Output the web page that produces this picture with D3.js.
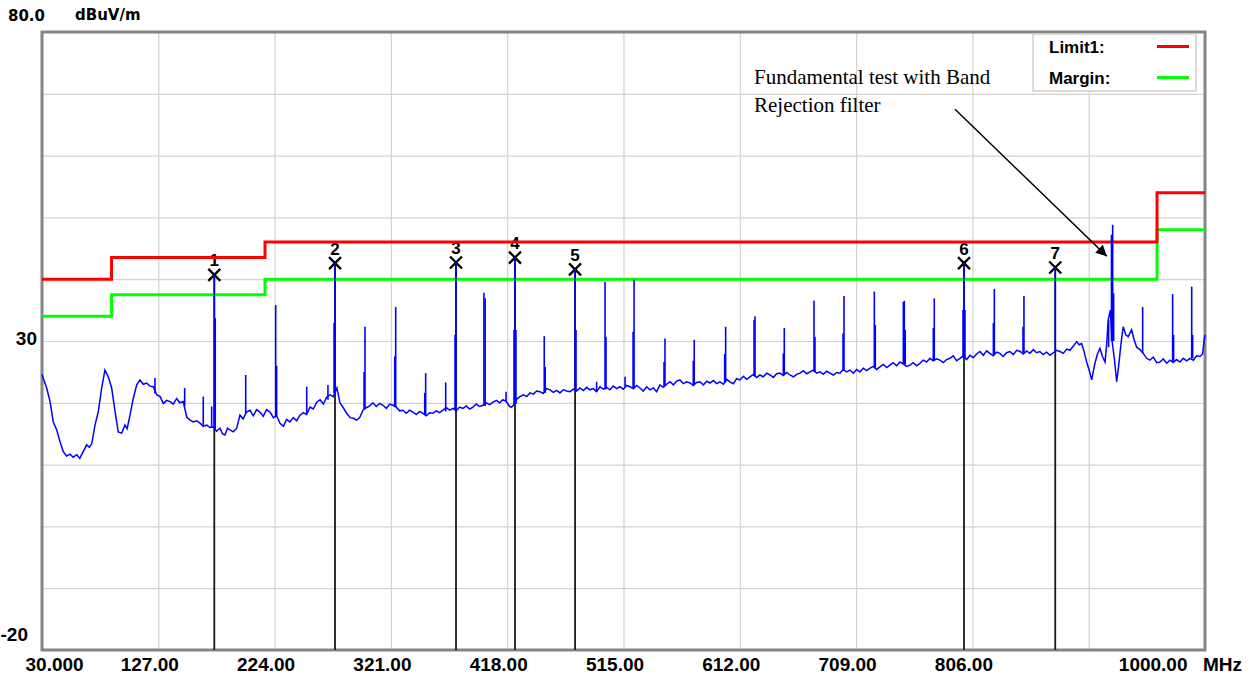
<!DOCTYPE html>
<html>
<head>
<meta charset="utf-8">
<script src="https://cdn.jsdelivr.net/npm/d3@7"></script>
<style>
body { margin: 0; background: #fff; }
svg { display: block; }
</style>
</head>
<body>
<div class="chart"></div>
<script>
// frequency axis, MHz
const xTicks = [30, 127, 224, 321, 418, 515, 612, 709, 806, 903, 1000];
const xTickLabels = ["30.000", "127.00", "224.00", "321.00", "418.00", "515.00",
    "612.00", "709.00", "806.00", "", "1000.00"];
// level axis, dBuV/m
const yTicks = [-20, -10, 0, 10, 20, 30, 40, 50, 60, 70, 80];
const yTickLabels = { "80": "80.0", "30": "30", "-20": "-20" };

// FCC class B limit and margin steps [MHz, dB]
const limit1 = [[30, 40], [88, 43.5], [216, 46], [960, 54], [1000, 54]];
const margin = [[30, 34], [88, 37.5], [216, 40], [960, 48], [1000, 48]];

// measured noise floor [MHz, dB]
const trace = [
    [30, 24.6], [30.6, 24.2], [33.9, 22.4], [36.7, 20.2], [39.4, 16.9], [42.3, 15.6], [45, 13.7],
    [47.8, 12.1], [50.5, 11.4], [53.4, 11.7], [56, 11.2], [59, 11.6], [61.5, 11.0], [64.4, 12.1],
    [67.3, 13.2], [69.5, 12.8], [71.5, 13.4], [74.2, 16.4], [77, 18.6], [79.8, 22.4], [82.5, 25.3],
    [85.3, 24.2], [88.1, 22.4], [90.9, 18.6], [93.6, 15.3], [96.5, 15.1], [99.2, 16.4], [101, 15.8],
    [103.4, 18], [106.1, 20.7], [109, 22.9], [111.7, 23.7], [114.5, 23.0], [117.3, 23.2], [120, 22.7],
    [122.8, 22.6], [125.7, 21.3], [128.5, 21.0], [131.2, 19.9], [134, 20.4], [136.8, 20.2],
    [139.5, 19.8], [142.3, 20.7], [145, 20.0], [147.8, 20.2], [150.7, 17.7], [153.5, 17.2],
    [156.2, 16.9], [159, 17.1], [161.8, 16.7], [164.5, 16.2], [167.4, 16.4], [170, 16.0],
    [172.9, 16.1], [175.5, 15.4], [178.5, 15.9], [180.5, 15.0], [182.6, 14.8], [184.7, 15.9],
    [186.8, 15.6], [189.5, 15.3], [192.4, 15.9], [195.1, 18], [197.8, 17.4], [200.5, 18.5],
    [203.5, 18.8], [206.2, 17.9], [209, 18.9], [211.8, 18.5], [214.5, 17.8], [217.3, 18.9],
    [220.2, 18.5], [223, 17.6], [225.7, 17.9], [228.5, 16.7], [231.3, 16.2], [234, 17.3],
    [236.8, 16.9], [239.6, 17.6], [242.4, 17.1], [245.2, 18], [248, 18.4], [250.7, 18.1],
    [253.5, 19.3], [256.3, 19.0], [259.1, 20.1], [261.9, 20.5], [264.7, 19.8], [267.4, 20.9],
    [270.2, 21.3], [273, 21.0], [276, 22.4], [278.5, 20], [281.3, 19.2], [284.1, 18.3], [287, 17.6],
    [289.7, 17.5], [292.5, 17.2], [295, 17.6], [297.7, 18.8], [300.5, 19.2], [303.3, 19.5], [306, 20],
    [308.8, 19.4], [311.6, 19.9], [314.4, 19.6], [317.2, 19.1], [320, 19.8], [322.7, 19.6],
    [325.5, 19.3], [328.3, 18.7], [331, 18.8], [333.8, 18.3], [336.6, 18.8], [339.4, 18.5],
    [342.2, 18.1], [345, 18.6], [347.8, 18.3], [350.5, 17.9], [353.3, 18.4], [356.1, 18.3],
    [358.9, 18.7], [361.6, 18.4], [364.4, 18.8], [367.2, 19.2], [370, 18.8], [372.8, 19.1],
    [375.6, 18.7], [378.3, 19.3], [381.1, 19.1], [383.9, 19.5], [386.7, 19.0], [389.5, 19.3],
    [392.2, 19.8], [395, 19.4], [397.8, 19.6], [400.6, 20.0], [403.4, 19.7], [406.2, 20.1],
    [409, 20.4], [411.7, 20.0], [414.5, 20.5], [417.3, 20.2], [420, 19.4], [421.7, 19.3],
    [424.5, 19.9], [426, 20.6], [428.7, 21], [431.5, 21.3], [434.2, 21.0], [437, 21.6],
    [439.8, 21.4], [442.6, 21.9], [445.3, 21.8], [448.1, 21.5], [450.9, 22.3], [453.7, 22.1],
    [456.5, 21.7], [459.2, 22.0], [462, 21.6], [464.8, 22.1], [467.6, 21.9], [470.4, 21.8],
    [473.1, 22.2], [475.9, 21.9], [478.7, 22.4], [481.5, 22.0], [484.3, 22.5], [487, 22.1],
    [489.8, 22.3], [492.6, 21.8], [495.4, 22.6], [498.2, 22.2], [501, 22.5], [503.7, 22.1],
    [506.5, 22.7], [509.3, 22.3], [512, 22.6], [514.8, 22.2], [517.6, 22.8], [520.4, 22.6],
    [523.2, 22.3], [526, 22.8], [528.7, 22.4], [531.5, 21.9], [534.3, 22.6], [537.1, 22.1],
    [539.9, 22.4], [542.6, 21.8], [545.4, 22.9], [548.2, 22.5], [551, 23.0], [553.8, 23.4],
    [556.6, 22.9], [559.3, 23.5], [562.1, 23.7], [564.9, 23.1], [567.7, 23.4], [570.5, 23.2],
    [573.2, 22.8], [576, 23.3], [578.8, 23.4], [581.6, 22.9], [584.4, 23.5], [587.1, 23.2],
    [589.9, 23.6], [592.7, 23.1], [595.5, 23.4], [598.3, 23.0], [601, 23.8], [603.8, 23.4],
    [606.6, 23.1], [609.4, 23.9], [612.2, 23.7], [615, 24.3], [617.7, 23.8], [620.5, 24.2],
    [623.3, 24.6], [626.1, 24.1], [628.8, 24.5], [631.6, 24.2], [634.4, 24.8], [637.2, 24.5],
    [640, 24.1], [642.7, 24.7], [645.5, 24.8], [648.3, 24.4], [651.1, 24.9], [653.9, 24.5],
    [656.7, 24.2], [659.4, 24.6], [662.2, 24.8], [665, 25.2], [667.8, 24.7], [670.5, 25],
    [673.3, 25.3], [676.1, 24.8], [678.9, 25], [681.7, 24.6], [684.4, 25.1], [687.2, 24.8],
    [690, 24.5], [692.8, 24.9], [695.5, 24.8], [698.3, 25.4], [701.1, 25.0], [703.9, 25.3],
    [706.7, 24.8], [709.4, 25.4], [712.2, 25], [715, 25.6], [717.8, 25.2], [720.6, 25.6],
    [723.4, 25.9], [726.1, 25.4], [728.9, 25.8], [731.7, 26.2], [734.5, 25.7], [737.2, 26.1],
    [740, 26.5], [742.8, 26.0], [745.6, 26.6], [748.4, 26.3], [751.1, 25.9], [753.9, 26.1],
    [756.7, 26.5], [759.5, 26.0], [762.3, 26.4], [765, 26.9], [767.8, 26.6], [770.6, 27.2],
    [773.4, 26.8], [776.2, 27.1], [778.9, 26.9], [781.7, 26.5], [784.5, 27.0], [787.3, 27.2],
    [790, 27.6], [792.8, 26.8], [795.6, 27.2], [798.4, 27.6], [801.2, 27.0], [804, 27.7],
    [806.7, 27.3], [809.5, 27.9], [812.3, 28.3], [815.1, 27.7], [817.9, 28.4], [820.6, 28],
    [823.4, 27.6], [826.2, 28.2], [829, 28], [831.7, 27.5], [834.5, 28.1], [837.3, 28.3],
    [840.1, 27.8], [842.9, 28.5], [845.7, 28.3], [848.5, 27.9], [851.2, 28.4], [854, 28],
    [856.8, 28.6], [859.6, 28.1], [862.3, 28.3], [865.1, 27.8], [867.9, 28.2], [870.7, 27.7],
    [873.5, 28.1], [876.2, 28.5], [879, 28.3], [881.8, 28.0], [884.6, 28.7], [887.4, 28.5],
    [890.2, 29.2], [893, 29.9], [895, 29.4], [897.1, 29.6], [899, 28.4], [901.3, 26.6],
    [903.5, 25.2], [905.5, 23.7], [908.2, 26.4], [910.3, 27.9], [912.4, 28.8], [914.5, 27.5],
    [916.6, 26.6], [918, 29.5], [919.3, 33.4], [921, 35], [922.5, 30], [924.5, 27], [926.3, 23.4],
    [927.7, 25.5], [929.1, 28], [930.5, 30.5], [931.8, 32.3], [933.9, 31], [936, 30.7],
    [938.8, 31.8], [940.9, 30.2], [943, 29], [945.8, 28.6], [948.5, 28], [951.3, 27.2],
    [954.1, 26.9], [956.9, 27.4], [959.7, 26.5], [962.4, 26.6], [965.2, 27.1], [968, 26.4],
    [970.8, 26.9], [973.6, 26.5], [976.3, 27.0], [979.1, 26.6], [981.9, 27.2], [984.7, 26.8],
    [987.5, 27.2], [990.3, 26.9], [993, 27.6], [995.8, 27.5], [998, 27.9], [999.3, 30.2], [1000, 31]
];

// narrow emissions [MHz, peak dB, floor dB]
const spikes = [
    [124.2, 24.0, 21.5], [149.0, 22.4, 19.5], [164.5, 21.0, 16.3], [171.5, 19.4, 16.0],
    [173.7, 40.7, 15.8], [174.5, 33.7, 15.8], [199.9, 24.5, 18.3], [224.9, 35.8, 17.8],
    [225.7, 26.0, 17.8], [250.8, 22.6, 18.2], [268.5, 22.9, 20.5], [273.6, 32.9, 21.5],
    [274.4, 42.6, 21.5], [298.6, 25.0, 19.0], [299.4, 32.3, 19.0], [324.2, 27.5, 19.3],
    [325.0, 35.5, 19.3], [349.2, 21.6, 18.0], [350.0, 24.8, 18.0], [366.7, 23.3, 18.6],
    [374.5, 31.0, 18.8], [375.3, 42.7, 18.8], [398.6, 37.8, 19.5], [399.6, 36.9, 19.5],
    [417.0, 21.8, 20.2], [423.7, 31.8, 19.8], [424.5, 43.5, 19.8], [425.3, 31.8, 19.8],
    [448.9, 30.8, 21.6], [449.7, 25.8, 21.6], [474.6, 41.6, 22.0], [475.4, 31.8, 22.0],
    [492.6, 23.4, 21.8], [499.6, 39.6, 22.2], [500.4, 30.7, 22.2], [516.3, 24.2, 22.6],
    [523.0, 31.5, 22.3], [523.8, 39.9, 22.3], [548.8, 26.6, 22.7], [549.6, 30.4, 22.7],
    [573.2, 26.8, 22.9], [574.0, 30.2, 22.9], [599.4, 27.9, 23.3], [600.2, 32.3, 23.3],
    [623.9, 33.4, 24.3], [624.7, 34.0, 24.3], [648.3, 28.0, 24.5], [649.1, 32.1, 24.5],
    [673.9, 36.5, 25.0], [674.7, 30.7, 25.0], [698.1, 31.2, 25.2], [698.9, 37.3, 25.2],
    [724.2, 38.0, 25.7], [725.0, 32.6, 25.7], [748.4, 36.3, 26.2], [749.2, 36.5, 26.2],
    [750.0, 31.8, 26.2], [773.4, 32.1, 26.9], [774.2, 36.9, 26.9], [798.2, 35.0, 27.3],
    [799.0, 42.6, 27.3], [799.8, 35.0, 27.3], [823.5, 32.9, 27.8], [824.3, 38.4, 27.8],
    [848.2, 32.3, 28.1], [849.0, 37.3, 28.1], [875.1, 41.9, 28.2], [919.6, 33.4, 29.0],
    [922.0, 47.2, 30.0], [923.0, 48.8, 30.0], [923.8, 37.7, 30.0], [948.0, 35.5, 28.0],
    [973.0, 37.6, 26.6], [973.8, 31.0, 26.6], [988.9, 38.8, 27.2], [989.7, 31.0, 27.2]
];

// peak markers
const markerMHz = [173.7, 274.4, 375.3, 424.5, 474.6, 799.0, 875.1];
const markerDb = [40.7, 42.6, 42.7, 43.5, 41.6, 42.6, 41.9];

const legendItems = [["Limit1:", "#ff0000"], ["Margin:", "#00ff00"]];
const noteLines = ["Fundamental test with Band", "Rejection filter"];
const arrowFrom = [791.5, 67.5];
const arrowTo = [918.2, 43.7];

const w = 1257;
const h = 677;
const plotLeft = 42, plotRight = 1205, plotTop = 32, plotBottom = 650;

const xScale = d3.scaleLinear().domain([30, 1000]).range([plotLeft, plotRight]);
const yScale = d3.scaleLinear().domain([-20, 80]).range([plotBottom, plotTop]);

const svg = d3.select(".chart")
    .append("svg")
    .attr("width", w)
    .attr("height", h);

const boldSans = "'Liberation Sans', Arial, sans-serif";

// grid + x labels
const xAxis = svg.append("g")
    .attr("transform", "translate(0," + plotBottom + ")")
    .call(d3.axisBottom(xScale)
        .tickValues(xTicks)
        .tickSize(-(plotBottom - plotTop))
        .tickFormat((d, i) => xTickLabels[i]));
xAxis.select(".domain").remove();
xAxis.selectAll("line").attr("stroke", "#d6d3cc").attr("stroke-width", 1.2);
xAxis.selectAll("text")
    .attr("y", 21)
    .attr("dy", 0)
    .attr("fill", "#000")
    .style("font", "bold 19px " + boldSans)
    .attr("text-anchor", (d, i) => i === 0 ? "start" : (i === xTicks.length - 1 ? "end" : "middle"))
    .attr("dx", (d, i) => i === 0 ? -17 : (i === xTicks.length - 1 ? -18 : -9));

xAxis.append("text")
    .attr("x", 1203)
    .attr("y", 21)
    .attr("fill", "#000")
    .attr("text-anchor", "start")
    .style("font", "bold 19px " + boldSans)
    .text("MHz");

const yAxis = svg.append("g")
    .attr("transform", "translate(" + plotLeft + ",0)")
    .call(d3.axisLeft(yScale)
        .tickValues(yTicks)
        .tickSize(-(plotRight - plotLeft))
        .tickFormat(d => yTickLabels[d] || ""));
yAxis.select(".domain").remove();
yAxis.selectAll("line").attr("stroke", "#d6d3cc").attr("stroke-width", 1.2);
yAxis.selectAll("text")
    .attr("fill", "#000")
    .attr("dy", 0)
    .style("font", d => d === 80 ? "bold 15px 'DejaVu Sans', sans-serif" : "bold 19px " + boldSans)
    .attr("text-anchor", d => d === 80 ? "start" : "end")
    .attr("x", d => d === 80 ? -34 : (d === 30 ? -5 : -14))
    .attr("y", d => d === 80 ? -12 : (d === 30 ? 3 : -10));

svg.append("text")
    .attr("x", 75)
    .attr("y", 20)
    .style("font", "bold 15px 'DejaVu Sans', sans-serif")
    .text("dBuV/m");

// frame
svg.append("rect")
    .attr("x", plotLeft)
    .attr("y", plotTop)
    .attr("width", plotRight - plotLeft)
    .attr("height", plotBottom - plotTop)
    .attr("fill", "none")
    .attr("stroke", "#858585")
    .attr("stroke-width", 3);

// marker drop lines
svg.append("g")
    .selectAll("line")
    .data(markerMHz)
    .enter()
    .append("line")
    .attr("x1", d => xScale(d))
    .attr("x2", d => xScale(d))
    .attr("y1", yScale(-20))
    .attr("y2", (d, i) => yScale(markerDb[i]))
    .attr("stroke", "#1a1a1a")
    .attr("stroke-width", 1.8);

// marker crosses + numbers
const mk = svg.append("g")
    .selectAll("g")
    .data(markerMHz)
    .enter()
    .append("g")
    .attr("transform", (d, i) => "translate(" + xScale(d) + "," + yScale(markerDb[i]) + ")");

mk.append("path")
    .attr("d", "M-6,-6L6,6M-6,6L6,-6")
    .attr("stroke", "#000")
    .attr("stroke-width", 2.3);

mk.append("text")
    .attr("y", -8.5)
    .attr("text-anchor", "middle")
    .style("font", "bold 17px " + boldSans)
    .text((d, i) => i + 1);

// limit lines
const stepLine = d3.line()
    .x(d => xScale(d[0]))
    .y(d => yScale(d[1]))
    .curve(d3.curveStepAfter);

svg.append("path")
    .datum(margin)
    .attr("d", stepLine)
    .attr("fill", "none")
    .attr("stroke", "#00ff00")
    .attr("stroke-width", 3);

svg.append("path")
    .datum(limit1)
    .attr("d", stepLine)
    .attr("fill", "none")
    .attr("stroke", "#ff0000")
    .attr("stroke-width", 3);

// trace
svg.append("path")
    .datum(trace)
    .attr("d", d3.line().x(d => xScale(d[0])).y(d => yScale(d[1])))
    .attr("fill", "none")
    .attr("stroke", "#0000ff")
    .attr("stroke-width", 1.5)
    .attr("stroke-linejoin", "miter");

svg.append("g")
    .selectAll("line")
    .data(spikes)
    .enter()
    .append("line")
    .attr("x1", d => xScale(d[0]))
    .attr("x2", d => xScale(d[0]))
    .attr("y1", d => yScale(d[2]))
    .attr("y2", d => yScale(d[1]))
    .attr("stroke", "#0000ff")
    .attr("stroke-width", 1.6);

// legend
const lg = svg.append("g");
lg.append("rect")
    .attr("x", 1033)
    .attr("y", 34)
    .attr("width", 163)
    .attr("height", 57)
    .attr("fill", "#fff")
    .attr("stroke", "#cfcfcf")
    .attr("stroke-width", 1.5);

const li = lg.selectAll("g")
    .data(legendItems)
    .enter()
    .append("g")
    .attr("transform", (d, i) => "translate(0," + i * 31 + ")");
li.append("text")
    .attr("x", 1049)
    .attr("y", 53)
    .style("font", "bold 17px " + boldSans)
    .text(d => d[0]);
li.append("line")
    .attr("x1", 1157)
    .attr("x2", 1189)
    .attr("y1", 46.5)
    .attr("y2", 46.5)
    .attr("stroke", d => d[1])
    .attr("stroke-width", 3);

// annotation
svg.append("g")
    .selectAll("text")
    .data(noteLines)
    .enter()
    .append("text")
    .attr("x", 754)
    .attr("y", (d, i) => 84 + i * 28)
    .style("font", "21px 'Liberation Serif', 'Times New Roman', serif")
    .text(d => d);

svg.append("defs")
    .append("marker")
    .attr("id", "head")
    .attr("viewBox", "0 0 10 10")
    .attr("refX", 10)
    .attr("refY", 5)
    .attr("markerUnits", "userSpaceOnUse")
    .attr("markerWidth", 17)
    .attr("markerHeight", 11)
    .attr("orient", "auto")
    .append("path")
    .attr("d", "M0,0L10,5L0,10Z")
    .attr("fill", "#000");

svg.append("line")
    .attr("x1", xScale(arrowFrom[0]))
    .attr("y1", yScale(arrowFrom[1]))
    .attr("x2", xScale(arrowTo[0]))
    .attr("y2", yScale(arrowTo[1]))
    .attr("stroke", "#000")
    .attr("stroke-width", 1.5)
    .attr("marker-end", "url(#head)");
</script>
</body>
</html>
